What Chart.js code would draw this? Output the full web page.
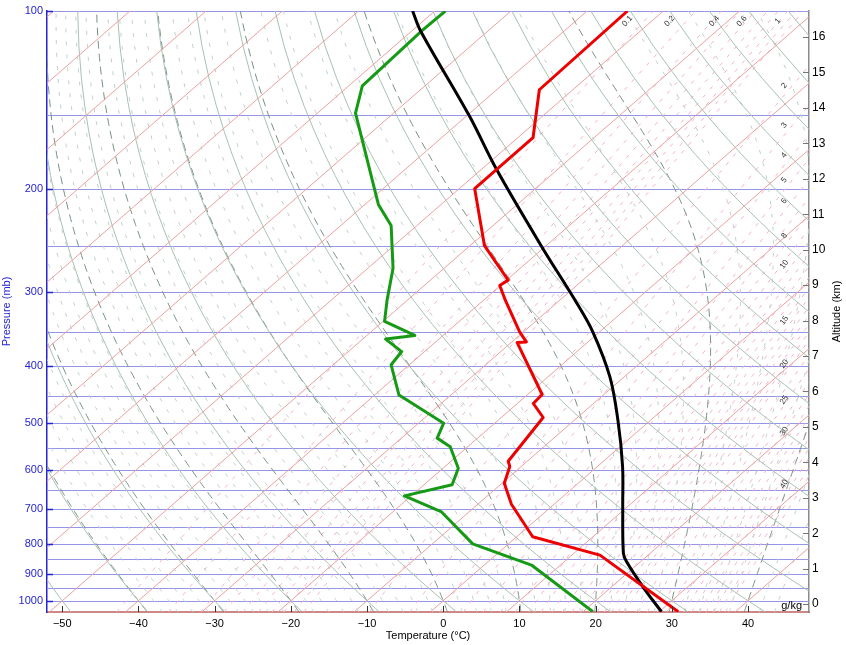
<!DOCTYPE html>
<html><head><meta charset="utf-8">
<script src="https://cdn.jsdelivr.net/npm/chart.js@4/dist/chart.umd.min.js"></script>
<style>html,body{margin:0;padding:0;background:#fff}canvas{display:block}</style>
</head><body>
<canvas id="c" width="846" height="645"></canvas>
<script>
// ---------------- sounding data ----------------
// Temperature profile (red)
const tempPressure = [1044, 837, 779, 686, 632, 592, 580, 489, 463, 447, 365, 364, 350, 309, 292, 286, 250, 200, 164, 136, 100];
const tempValues   = [32.5, 13.7, 2.1, -5.6, -9.7, -11.5, -12.5, -14.5, -17.9, -18.1, -29.2, -28.1, -30.5, -37.2, -40.1, -39.8, -48.1, -58.0, -58.0, -64.4, -64.7];
// Dew point profile (green)
const dewPressure  = [1044, 870, 801, 707, 664, 636, 596, 548, 530, 500, 448, 398, 378, 360, 355, 336, 309, 273, 231, 213, 149, 134, 108, 100];
const dewValues    = [21.3, 6.2, -4.7, -13.6, -20.9, -16.3, -18.0, -22.3, -25.3, -26.7, -36.8, -42.4, -43.0, -47.0, -43.7, -49.8, -52.7, -56.7, -63.4, -68.2, -85.0, -88.2, -88.7, -88.6];
// Parcel path (black)
const parcelPressure = [1044, 947, 859, 831, 693, 592, 494, 417, 350, 313, 249, 185, 151, 108, 100];
const parcelValues   = [30.3, 24.1, 18.2, 16.5, 9.4, 3.3, -4.3, -11.9, -20.9, -27.3, -40.9, -58.2, -69.5, -88.9, -92.9];

// ---------------- axes / reference line values ----------------
const temperatureTicks = [-50, -40, -30, -20, -10, 0, 10, 20, 30, 40];
const pressureGrid = [100, 150, 200, 250, 300, 350, 400, 450, 500, 550, 600, 650, 700, 750, 800, 850, 900, 950, 1000];
const pressureLabels = [100, 200, 300, 400, 500, 600, 700, 800, 900, 1000];
const altitudeTicks = [0, 1, 2, 3, 4, 5, 6, 7, 8, 9, 10, 11, 12, 13, 14, 15, 16];
const isothermValues = [-140, -130, -120, -110, -100, -90, -80, -70, -60, -50, -40, -30, -20, -10, 0, 10, 20, 30, 40];
const dryAdiabatValues = [-50, -40, -30, -20, -10, 0, 10, 20, 30, 40, 50, 60, 70, 80, 90, 100, 110, 120, 130, 140, 150, 160, 170];
const moistAdiabatValues = [-40, -38, -36, -34, -32, -30, -28, -26, -24, -22, -20, -18, -16, -14, -12, -10, -8, -6, -4, -2, 0, 2, 4, 6, 8, 10, 12, 14, 16, 18, 20, 22, 24, 26, 28, 30, 32, 34, 36, 38, 40, 42, 44];
const mixingRatioLines = [0.1, 0.2, 0.3, 0.4, 0.5, 0.6, 0.7, 0.8, 0.9, 1, 2, 3, 4, 5, 6, 7, 8, 9, 10, 11, 12, 13, 14, 15, 16, 17, 18, 19, 20, 22, 24, 26, 28, 30, 32, 34, 36, 38, 40, 42, 44];
const mixingRatioLabels = [0.1, 0.2, 0.4, 0.6, 1, 2, 3, 4, 5, 6, 8, 10, 15, 20, 25, 30, 40];

// ---------------- skew-T geometry & thermodynamics ----------------
const P_TOP = 100, P_BOT = 1045;
const SKEW = 38.6;                 // degC per ln(p) unit
const skewX = (T, p) => T + SKEW * Math.log(1000 / p);
const H_SCALE = 7.226;             // km, altitude axis
const zAlt = p => H_SCALE * Math.log(1013.25 / p);
const RD = 287.04, CP = 1005.7, LV = 2.501e6, EPS = 0.622;
const satVap = Tc => 6.112 * Math.exp(17.67 * Tc / (Tc + 243.5));
const dewFromMix = (w, p) => { const e = w * p / (622 + w); const a = Math.log(e / 6.112); return 243.5 * a / (17.67 - a); };

const pGrid = [];
for (let p = P_BOT; p >= P_TOP - 1e-6; p -= 5) pGrid.push(+p.toFixed(2));
if (pGrid[pGrid.length - 1] !== P_TOP) pGrid.push(P_TOP);
const pCoarse = pGrid.filter((p, i) => i % 3 === 0 || p === P_TOP);

const series = (ps, Ts) => ps.map((p, i) => ({ x: skewX(Ts[i], p), y: p }));

function moistAdiabat(thw) {
  const f = (p, T) => { const e = satVap(T - 273.15); const rs = EPS * e / (p - e);
    return (RD * T + LV * rs) / (CP + (LV * LV * rs * EPS) / (RD * T * T)) / p; };
  const step = (p, T, h) => { const k1 = f(p, T), k2 = f(p + h / 2, T + h * k1 / 2), k3 = f(p + h / 2, T + h * k2 / 2), k4 = f(p + h, T + h * k3);
    return T + h * (k1 + 2 * k2 + 2 * k3 + k4) / 6; };
  const below = []; let T = thw + 273.15, p = 1000;
  while (p < P_BOT - 1e-6) { const h = Math.min(5, P_BOT - p); T = step(p, T, h); p += h; below.push({ x: skewX(T - 273.15, p), y: p }); }
  below.reverse();
  const above = [{ x: skewX(thw, 1000), y: 1000 }]; T = thw + 273.15; p = 1000;
  while (p > P_TOP + 1e-6) { const h = -Math.min(5, p - P_TOP); T = step(p, T, h); p += h; above.push({ x: skewX(T - 273.15, p), y: p }); }
  return below.concat(above);
}

const bg = (data, color, width, dash, order) => ({ data, borderColor: color, borderWidth: width, borderDash: dash, showLine: true,
  pointRadius: 0, pointHoverRadius: 0, fill: false, clip: 0, order, tension: 0, yAxisID: 'y' });

const datasets = [];
// data series
datasets.push(Object.assign(bg(series(tempPressure, tempValues), '#ee0000', 3, [], 0), { label: 'Temperature', borderJoinStyle: 'round' }));
datasets.push(Object.assign(bg(series(parcelPressure, parcelValues), '#000000', 3, [], 1), { label: 'Parcel', tension: 0.35, borderJoinStyle: 'round' }));
datasets.push(Object.assign(bg(series(dewPressure, dewValues), '#169a16', 3, [], 2), { label: 'Dew point', borderJoinStyle: 'round' }));
// reference lines
isothermValues.forEach(t => datasets.push(bg([{ x: skewX(t, P_BOT), y: P_BOT }, { x: skewX(t, P_TOP), y: P_TOP }], 'rgb(236,160,160)', 1, [], 20)));
dryAdiabatValues.forEach(th => datasets.push(bg(pCoarse.map(p => ({ x: skewX((th + 273.15) * Math.pow(p / 1000, 0.2857) - 273.15, p), y: p })), 'rgb(168,192,178)', 1, [], 21)));
moistAdiabatValues.forEach(tw => {
  const major = tw % 10 === 0;
  datasets.push(bg(moistAdiabat(tw), major ? 'rgb(120,145,130)' : 'rgb(192,208,202)', 1, major ? [8, 5] : [4, 9], major ? 22 : 23));
});
mixingRatioLines.forEach(w => datasets.push(bg(pCoarse.map(p => ({ x: skewX(dewFromMix(w, p), p), y: p })), 'rgb(242,178,206)', 1, [4, 7], 24)));

const FONT = "'Liberation Sans', Arial, Helvetica, sans-serif";
const BLUE = '#2424d2';

const extras = {
  id: 'extras',
  beforeDatasetsDraw(chart) {
    const { ctx, chartArea: a, scales } = chart;
    ctx.save();
    ctx.strokeStyle = 'rgb(150,150,232)'; ctx.lineWidth = 1;
    pressureGrid.forEach(p => { const y = Math.round(scales.y.getPixelForValue(p)) + 0.5; ctx.beginPath(); ctx.moveTo(a.left, y); ctx.lineTo(a.right, y); ctx.stroke(); });
    ctx.restore();
  },
  afterDatasetsDraw(chart) {
    const { ctx, chartArea: a, scales } = chart;
    const xs = scales.x, ys = scales.y, zs = scales.yAlt;
    ctx.save();
    // inward tick marks
    ctx.lineWidth = 1; ctx.strokeStyle = '#333';
    temperatureTicks.forEach(t => { const x = Math.round(xs.getPixelForValue(t)) + 0.5; ctx.beginPath(); ctx.moveTo(x, a.bottom); ctx.lineTo(x, a.bottom - 6); ctx.stroke(); });
    ctx.strokeStyle = BLUE; ctx.lineWidth = 1.5;
    pressureLabels.forEach(p => { const y = Math.round(ys.getPixelForValue(p)) + 0.5; ctx.beginPath(); ctx.moveTo(a.left, y); ctx.lineTo(a.left + 6, y); ctx.stroke(); });
    ctx.strokeStyle = '#777'; ctx.lineWidth = 1;
    altitudeTicks.forEach(z => { const y = Math.round(zs.getPixelForValue(z)) + 0.5; ctx.beginPath(); ctx.moveTo(a.right - 6, y); ctx.lineTo(a.right, y); ctx.stroke(); });
    // mixing ratio labels
    ctx.fillStyle = '#333'; ctx.font = '8px ' + FONT; ctx.textAlign = 'center'; ctx.textBaseline = 'middle';
    mixingRatioLabels.forEach(w => {
      let p, off;
      if (w <= 1) { p = 104; off = 17; }
      else { let lo = P_TOP, hi = P_BOT; for (let i = 0; i < 40; i++) { const m = (lo + hi) / 2; if (skewX(dewFromMix(w, m), m) > 45.8) lo = m; else hi = m; } p = (lo + hi) / 2; off = 8; }
      const px = xs.getPixelForValue(skewX(dewFromMix(w, p), p)), py = ys.getPixelForValue(p);
      const p2 = p * 0.97, px2 = xs.getPixelForValue(skewX(dewFromMix(w, p2), p2)), py2 = ys.getPixelForValue(p2);
      const ang = Math.atan2(py2 - py, px2 - px);
      ctx.save(); ctx.translate(px - off, py); ctx.rotate(ang); ctx.fillText(String(w), 0, 0); ctx.restore();
    });
    // g/kg
    ctx.fillStyle = '#000'; ctx.font = '11px ' + FONT; ctx.textAlign = 'right'; ctx.textBaseline = 'alphabetic';
    ctx.fillText('g/kg', a.right - 7, a.bottom - 3);
    // right axis title (reads upward)
    ctx.save(); ctx.translate(836.5, (a.top + a.bottom) / 2); ctx.rotate(-Math.PI / 2);
    ctx.textAlign = 'center'; ctx.textBaseline = 'middle'; ctx.fillText('Altitude (km)', 0, 0); ctx.restore();
    ctx.restore();
  }
};

new Chart(document.getElementById('c'), {
  type: 'scatter',
  data: { datasets },
  options: {
    responsive: false, animation: false, devicePixelRatio: 1,
    events: [],
    layout: { padding: { top: 11, left: 0, right: 0, bottom: 2 } },
    plugins: { legend: { display: false }, tooltip: { enabled: false } },
    scales: {
      x: {
        type: 'linear', position: 'bottom', min: -52, max: 48,
        afterBuildTicks: s => { s.ticks = temperatureTicks.map(v => ({ value: v })); },
        afterFit: s => { s.height = 31; },
        grid: { drawOnChartArea: false, drawTicks: false },
        border: { color: 'rgb(205,135,135)', width: 2 },
        ticks: { autoSkip: false, maxRotation: 0, padding: 5, color: '#000', font: { family: FONT, size: 11 },
                 callback: v => String(v).replace('-', '\u2212') },
        title: { display: true, text: 'Temperature (\u00B0C)', color: '#000', font: { family: FONT, size: 11 }, padding: { top: 0, bottom: 0 } }
      },
      y: {
        type: 'logarithmic', position: 'left', reverse: true, min: P_TOP, max: P_BOT,
        afterBuildTicks: s => { s.ticks = pressureLabels.map(v => ({ value: v })); },
        afterFit: s => { s.width = 47; },
        grid: { drawOnChartArea: false, drawTicks: false },
        border: { color: BLUE, width: 1.5 },
        ticks: { autoSkip: false, padding: 4, color: BLUE, font: { family: FONT, size: 11 },
                 callback: v => String(v) },
        title: { display: true, text: 'Pressure (mb)', color: BLUE, font: { family: FONT, size: 11 }, padding: { top: 0, bottom: 0 } }
      },
      yAlt: {
        type: 'linear', position: 'right', min: zAlt(P_BOT), max: zAlt(P_TOP),
        afterBuildTicks: s => { s.ticks = altitudeTicks.map(v => ({ value: v })); },
        afterFit: s => { s.width = 37; },
        grid: { drawOnChartArea: false, drawTicks: false },
        border: { color: '#8a8a8a', width: 1.5 },
        ticks: { autoSkip: false, padding: 3, color: '#000', font: { family: FONT, size: 12 } }
      }
    }
  },
  plugins: [extras]
});
</script>
</body></html>
